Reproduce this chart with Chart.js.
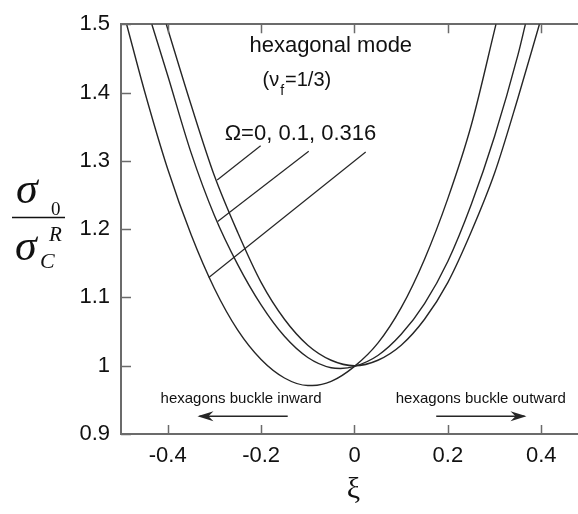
<!DOCTYPE html>
<html lang="en">
<head>
<meta charset="UTF-8">
<title>hexagonal mode</title>
<script src="https://cdn.jsdelivr.net/npm/chart.js"></script>
<style>
  html, body { margin: 0; padding: 0; background: #fff; }
  #wrap { width: 578px; height: 514px; }
</style>
</head>
<body>
<div id="wrap"><canvas id="myChart"></canvas></div>

<script>
    // curve Omega = 0
    const xiOmega0 = [-0.403, -0.35, -0.30, -0.25, -0.20, -0.15, -0.10, -0.05, 0.00,
                      0.05, 0.10, 0.15, 0.20, 0.25, 0.30, 0.35, 0.396];
    const sigOmega0 = [1.500, 1.382, 1.278, 1.195, 1.122, 1.068, 1.030, 1.008, 1.000,
                       1.008, 1.030, 1.068, 1.122, 1.196, 1.282, 1.392, 1.500];

    // curve Omega = 0.1
    const xiOmega01 = [-0.434, -0.40, -0.35, -0.30, -0.25, -0.20, -0.15, -0.10, -0.05, -0.03,
                       0.00, 0.05, 0.10, 0.15, 0.20, 0.25, 0.30, 0.35, 0.366];
    const sigOmega01 = [1.500, 1.425, 1.312, 1.220, 1.148, 1.089, 1.043, 1.012, 0.997, 0.996,
                        0.999, 1.015, 1.046, 1.091, 1.153, 1.236, 1.336, 1.455, 1.500];

    // curve Omega = 0.316
    const xiOmega0316 = [-0.488, -0.45, -0.40, -0.35, -0.30, -0.25, -0.20, -0.15, -0.10, -0.09,
                         -0.05, 0.00, 0.05, 0.10, 0.15, 0.20, 0.25, 0.303];
    const sigOmega0316 = [1.500, 1.403, 1.288, 1.192, 1.113, 1.052, 1.009, 0.982, 0.971, 0.971,
                          0.977, 0.999, 1.033, 1.085, 1.156, 1.245, 1.352, 1.500];

    // leader lines from the Omega label to each curve
    const leaderXi = [[-0.201, -0.294], [-0.098, -0.293], [0.024, -0.312]];
    const leaderSig = [[1.322, 1.272], [1.314, 1.211], [1.313, 1.129]];

    const xTicks = [-0.4, -0.2, 0, 0.2, 0.4];
    const xTickLabels = ['-0.4', '-0.2', '0', '0.2', '0.4'];
    const yTicks = [0.9, 1, 1.1, 1.2, 1.3, 1.4, 1.5];
    const yTickLabels = ['0.9', '1', '1.1', '1.2', '1.3', '1.4', '1.5'];

    const AXIS_COLOR = '#6b6b6b';
    const LINE_COLOR = '#262626';
    const TEXT_COLOR = '#111';
    const SANS = "'Liberation Sans', Arial, sans-serif";
    const SERIF = "'Liberation Serif', 'Times New Roman', serif";

    function toPoints(xs, ys) {
        return xs.map((x, i) => ({x: x, y: ys[i]}));
    }

    function curve(xs, ys) {
        return {
            data: toPoints(xs, ys),
            showLine: true,
            borderColor: LINE_COLOR,
            borderWidth: 1.4,
            pointRadius: 0,
            cubicInterpolationMode: 'monotone'
        };
    }

    const datasets = [
        curve(xiOmega0, sigOmega0),
        curve(xiOmega01, sigOmega01),
        curve(xiOmega0316, sigOmega0316)
    ];
    leaderXi.forEach((xs, i) => {
        datasets.push({
            data: toPoints(xs, leaderSig[i]),
            showLine: true,
            borderColor: LINE_COLOR,
            borderWidth: 1.2,
            pointRadius: 0
        });
    });

    function setTicks(values) {
        return function(scale) {
            scale.ticks = values.map(v => ({value: v}));
        };
    }

    // tick marks drawn inward on bottom, top and left edges
    const innerTicks = {
        id: 'innerTicks',
        afterDatasetsDraw(chart) {
            const {ctx, chartArea: a, scales} = chart;
            ctx.save();
            ctx.strokeStyle = AXIS_COLOR;
            ctx.lineWidth = 1.5;
            ctx.beginPath();
            xTicks.forEach(v => {
                const px = Math.round(scales.x.getPixelForValue(v)) + 0.5;
                ctx.moveTo(px, a.bottom); ctx.lineTo(px, a.bottom - 9);
                ctx.moveTo(px, a.top); ctx.lineTo(px, a.top + 9);
            });
            yTicks.forEach(v => {
                const py = Math.round(scales.y.getPixelForValue(v)) + 0.5;
                ctx.moveTo(a.left, py); ctx.lineTo(a.left + 10, py);
            });
            ctx.stroke();
            ctx.restore();
        }
    };

    function arrow(ctx, x1, x2, y) {
        const dir = Math.sign(x2 - x1);
        ctx.beginPath();
        ctx.moveTo(x1, y); ctx.lineTo(x2, y);
        ctx.stroke();
        ctx.beginPath();
        ctx.moveTo(x2 + dir * 2, y);
        ctx.lineTo(x2 - dir * 14, y - 5);
        ctx.lineTo(x2 - dir * 9, y);
        ctx.lineTo(x2 - dir * 14, y + 5);
        ctx.closePath();
        ctx.fill();
    }

    const notes = {
        id: 'notes',
        afterDatasetsDraw(chart) {
            const {ctx, scales: {x, y}} = chart;
            const X = v => x.getPixelForValue(v);
            const Y = v => y.getPixelForValue(v);
            ctx.save();
            ctx.fillStyle = TEXT_COLOR;
            ctx.strokeStyle = LINE_COLOR;
            ctx.textBaseline = 'alphabetic';

            ctx.font = '22px ' + SANS;
            ctx.textAlign = 'left';
            ctx.fillText('hexagonal mode', X(-0.225), Y(1.460));
            ctx.fillText('\u03a9=0, 0.1, 0.316', X(-0.278), Y(1.331));

            // (nu_f = 1/3)
            let cx = X(-0.197);
            const by = Y(1.409);
            ctx.font = '20px ' + SANS;
            ctx.fillText('(\u03bd', cx, by);
            cx += ctx.measureText('(\u03bd').width + 1;
            ctx.font = '14px ' + SANS;
            ctx.fillText('f', cx, by + 9);
            cx += ctx.measureText('f').width + 1;
            ctx.font = '20px ' + SANS;
            ctx.fillText('=1/3)', cx, by);

            ctx.font = '15px ' + SANS;
            ctx.textAlign = 'center';
            ctx.fillText('hexagons buckle inward', X(-0.243), Y(0.945));
            ctx.fillText('hexagons buckle outward', X(0.2705), Y(0.945));

            ctx.lineWidth = 1.3;
            ctx.fillStyle = LINE_COLOR;
            arrow(ctx, X(-0.143), X(-0.332), Y(0.926));
            arrow(ctx, X(0.175), X(0.364), Y(0.926));
            ctx.restore();
        }
    };

    // axis titles: sigma_0 / sigma_C^R and xi
    const axisTitles = {
        id: 'axisTitles',
        afterDraw(chart) {
            const {ctx, scales: {x}} = chart;
            ctx.save();
            ctx.fillStyle = TEXT_COLOR;
            ctx.textAlign = 'left';
            ctx.textBaseline = 'alphabetic';

            ctx.font = 'italic 44px ' + SERIF;
            ctx.fillText('\u03c3', 16, 203);
            ctx.fillText('\u03c3', 15, 260);
            ctx.font = '19px ' + SERIF;
            ctx.fillText('0', 51, 215);
            ctx.font = 'italic 21px ' + SERIF;
            ctx.fillText('R', 49, 241);
            ctx.font = 'italic 22px ' + SERIF;
            ctx.fillText('C', 40, 268);

            ctx.strokeStyle = TEXT_COLOR;
            ctx.lineWidth = 1.6;
            ctx.beginPath();
            ctx.moveTo(12, 217.5); ctx.lineTo(65, 217.5);
            ctx.stroke();

            ctx.font = '30px ' + SERIF;
            ctx.textAlign = 'center';
            ctx.fillText('\u03be', x.getPixelForValue(0) - 1, 498);
            ctx.restore();
        }
    };

    const ctx = document.getElementById('myChart').getContext('2d');

    const config = {
        type: 'scatter',
        data: {datasets: datasets},
        options: {
            responsive: true,
            maintainAspectRatio: false,
            animation: false,
            layout: {padding: {top: 18, right: 0, bottom: 0, left: 0}},
            plugins: {legend: false, tooltip: false},
            scales: {
                x: {
                    type: 'linear',
                    position: 'bottom',
                    min: -0.5,
                    max: 0.4786,
                    afterBuildTicks: setTicks(xTicks),
                    afterFit(scale) { scale.height = 80; },
                    grid: {display: false, drawTicks: false},
                    border: {color: AXIS_COLOR, width: 2},
                    ticks: {
                        color: TEXT_COLOR,
                        font: {family: SANS, size: 22},
                        padding: 9,
                        maxRotation: 0,
                        callback: (v) => xTickLabels[xTicks.findIndex(t => Math.abs(t - v) < 1e-9)]
                    }
                },
                x2: {
                    type: 'linear',
                    position: 'top',
                    min: -0.5,
                    max: 0.4786,
                    afterFit(scale) { scale.height = 0; },
                    grid: {display: false, drawTicks: false},
                    border: {color: AXIS_COLOR, width: 2},
                    ticks: {display: false}
                },
                y: {
                    type: 'linear',
                    position: 'left',
                    min: 0.9,
                    max: 1.5,
                    afterBuildTicks: setTicks(yTicks),
                    afterFit(scale) { scale.width = 121; },
                    grid: {display: false, drawTicks: false},
                    border: {color: AXIS_COLOR, width: 2},
                    ticks: {
                        color: TEXT_COLOR,
                        font: {family: SANS, size: 22},
                        padding: 11,
                        callback: (v) => yTickLabels[yTicks.findIndex(t => Math.abs(t - v) < 1e-9)]
                    }
                }
            }
        },
        plugins: [innerTicks, notes, axisTitles]
    };

    const chart = new Chart(ctx, config);
</script>
</body>
</html>
